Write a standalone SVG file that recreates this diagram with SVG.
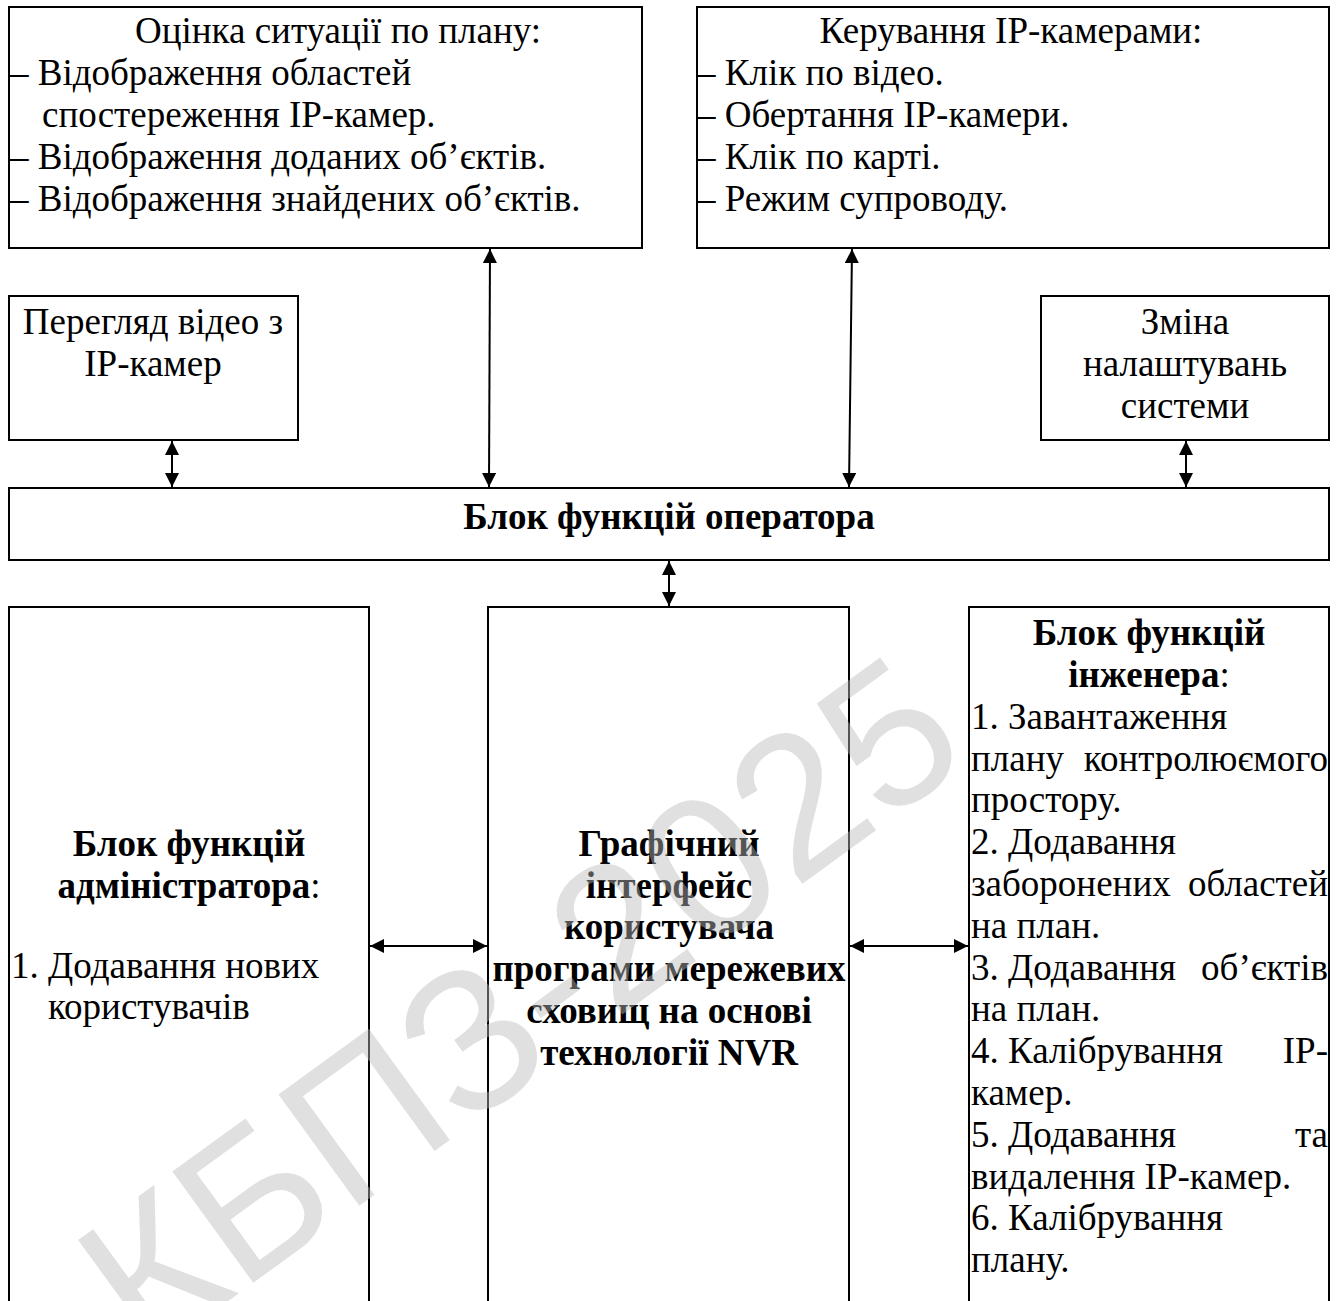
<svg xmlns="http://www.w3.org/2000/svg" width="1343" height="1301" viewBox="0 0 1343 1301">
<defs>
<style>
.box{fill:#fff;stroke:#000;stroke-width:2}
text{font-family:"Liberation Serif","Times New Roman",serif;font-size:37px;fill:#000}
.c{text-anchor:middle}
.e{text-anchor:end}
.b{font-weight:bold}
.ln{stroke:#000;stroke-width:2;fill:none;marker-start:url(#ah);marker-end:url(#ah)}
.wm{font-family:"Liberation Sans",Arial,sans-serif;font-size:200px;fill:#bbbbbb;fill-opacity:0.45}
</style>
<marker id="ah" markerUnits="userSpaceOnUse" markerWidth="14" markerHeight="14" refX="14" refY="7" orient="auto-start-reverse" viewBox="0 0 14 14">
<path d="M0,0 L14,7 L0,14 z" fill="#000"/>
</marker>
</defs>
<rect width="1343" height="1301" fill="#fff"/>

<g id="node-plan">
<rect class="box" x="9" y="7" width="633" height="241"/>
<text class="c" x="338" y="43">Оцінка ситуації по плану:</text>
<text x="10" y="85">– Відображення областей</text>
<text x="42" y="127">спостереження IP-камер.</text>
<text x="10" y="169">– Відображення доданих об’єктів.</text>
<text x="10" y="211">– Відображення знайдених об’єктів.</text>
</g>

<g id="node-cameras">
<rect class="box" x="697" y="7" width="632" height="241"/>
<text class="c" x="1011" y="43">Керування IP-камерами:</text>
<text x="697" y="85">– Клік по відео.</text>
<text x="697" y="127">– Обертання IP-камери.</text>
<text x="697" y="169">– Клік по карті.</text>
<text x="697" y="211">– Режим супроводу.</text>
</g>

<g id="node-video">
<rect class="box" x="9" y="296" width="289" height="144"/>
<text class="c" x="153" y="334">Перегляд відео з</text>
<text class="c" x="153" y="376">IP-камер</text>
</g>

<g id="node-settings">
<rect class="box" x="1041" y="296" width="288" height="144"/>
<text class="c" x="1185" y="334">Зміна</text>
<text class="c" x="1185" y="376">налаштувань</text>
<text class="c" x="1185" y="418">системи</text>
</g>

<g id="node-operator">
<rect class="box" x="9" y="488" width="1320" height="72"/>
<text class="c b" x="669" y="529">Блок функцій оператора</text>
</g>

<g id="node-admin">
<rect class="box" x="9" y="607" width="360" height="710"/>
<text class="c b" x="189" y="856">Блок функцій</text>
<text class="c" x="189" y="898"><tspan class="b">адміністратора</tspan>:</text>
<text x="11" y="978">1. Додавання нових</text>
<text x="48" y="1019">користувачів</text>
</g>

<g id="node-gui">
<rect class="box" x="488" y="607" width="361" height="710"/>
<text class="c b" x="669" y="856">Графічний</text>
<text class="c b" x="669" y="898">інтерфейс</text>
<text class="c b" x="669" y="939">користувача</text>
<text class="c b" x="669" y="981">програми мережевих</text>
<text class="c b" x="669" y="1023">сховищ на основі</text>
<text class="c b" x="669" y="1065">технології NVR</text>
</g>

<g id="node-engineer">
<rect class="box" x="969" y="607" width="360" height="710"/>
<text class="c b" x="1149" y="645">Блок функцій</text>
<text class="c" x="1149" y="687"><tspan class="b">інженера</tspan>:</text>
<text x="971" y="729">1. Завантаження</text>
<text x="971" y="771">плану</text><text class="e" x="1328" y="771">контролюємого</text>
<text x="971" y="812">простору.</text>
<text x="971" y="854">2. Додавання</text>
<text x="971" y="896">заборонених</text><text class="e" x="1328" y="896">областей</text>
<text x="971" y="938">на план.</text>
<text x="971" y="980">3. Додавання</text><text class="e" x="1328" y="980">об’єктів</text>
<text x="971" y="1021">на план.</text>
<text x="971" y="1063">4. Калібрування</text><text class="e" x="1328" y="1063">IP-</text>
<text x="971" y="1105">камер.</text>
<text x="971" y="1147">5. Додавання</text><text class="e" x="1328" y="1147">та</text>
<text x="971" y="1189">видалення IP-камер.</text>
<text x="971" y="1230">6. Калібрування</text>
<text x="971" y="1272">плану.</text>
</g>

<g id="connectors">
<line class="ln" x1="172" y1="441" x2="172" y2="487"/>
<line class="ln" x1="490" y1="249" x2="489" y2="487"/>
<line class="ln" x1="852" y1="249" x2="849" y2="487"/>
<line class="ln" x1="1186" y1="441" x2="1186" y2="487"/>
<line class="ln" x1="669" y1="561" x2="669" y2="606"/>
<line class="ln" x1="370" y1="946" x2="487" y2="946"/>
<line class="ln" x1="850" y1="946" x2="968" y2="946"/>
</g>

<g id="watermark">
<text class="wm" text-anchor="middle" transform="translate(560,1060) rotate(-36)">КБПЗ-2025</text>
</g>
</svg>
